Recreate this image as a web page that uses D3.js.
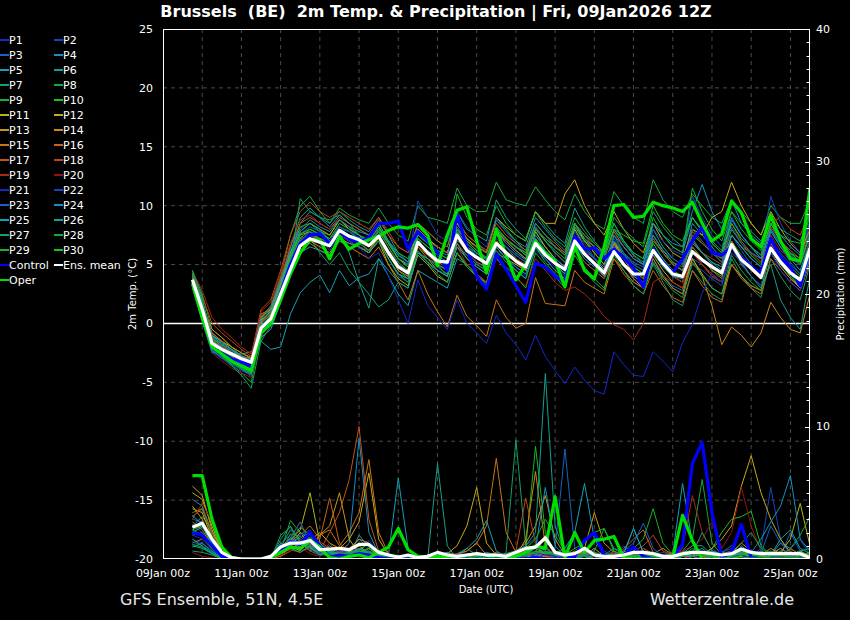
<!DOCTYPE html>
<html>
<head>
<meta charset="utf-8">
<script src="https://cdn.jsdelivr.net/npm/d3@7"></script>
<style>
  body { margin: 0; background: #000; }
  svg { display: block; font-family: "DejaVu Sans", sans-serif; }
</style>
</head>
<body>
<svg id="chart" width="850" height="620"></svg>
<script>
// Forecast steps: 6-hourly from 09Jan 18z to 25Jan 12z (64 steps)
const firstStep = new Date(Date.UTC(2026, 0, 9, 18));
const stepHours = 6;

const memberNames = ["P1","P2","P3","P4","P5","P6","P7","P8","P9","P10",
  "P11","P12","P13","P14","P15","P16","P17","P18","P19","P20",
  "P21","P22","P23","P24","P25","P26","P27","P28","P29","P30"];

const xTickLabels = ["09Jan 00z","11Jan 00z","13Jan 00z","15Jan 00z","17Jan 00z",
  "19Jan 00z","21Jan 00z","23Jan 00z","25Jan 00z"];
const tempTicks = [-20,-15,-10,-5,0,5,10,15,20,25];
const precipTicks = [0,10,20,30,40];

// 2m temperature (°C)
const tempMean = [3.7,1.2,-1.7,-2.2,-2.6,-3.0,-3.3,-0.4, 0.4,2.5,4.6,6.6,7.2,6.9,6.6,7.9, 7.4,7.1,6.6,7.4,6.0,4.8,4.3,6.9, 6.0,5.3,5.2,7.5,6.2,5.6,5.1,6.8, 6.0,5.3,4.8,6.8,5.8,5.1,4.6,7.0, 5.9,5.1,4.3,6.1,5.0,4.2,4.2,6.2, 5.1,4.2,4.0,6.1,5.4,4.8,4.3,6.7, 5.4,4.7,3.9,6.4,5.2,4.3,3.7,6.4];
const tempControl = [3.5,0.8,-2.0,-2.6,-3.0,-3.3,-3.6,-0.6, 0.2,2.6,5.0,6.8,7.5,7.6,6.8,7.8, 7.2,6.9,7.3,8.5,8.5,8.7,6.3,7.8, 7.0,6.0,4.5,9.3,6.4,4.0,2.9,5.9, 4.6,3.2,1.8,5.1,4.8,4.0,3.5,7.4, 6.3,6.4,5.5,6.3,5.6,4.7,3.1,6.3, 5.2,4.3,5.5,7.0,8.2,6.0,5.8,6.5, 5.6,4.8,4.3,7.2,5.6,4.8,3.2,6.5];
const tempOper = [3.4,0.5,-2.0,-2.6,-3.2,-3.6,-4.0,-0.8, 0.0,2.0,4.2,6.0,7.1,7.1,5.5,7.4, 6.3,6.8,7.1,7.4,7.9,8.2,8.1,8.4, 7.5,4.9,7.5,9.6,9.9,7.0,4.3,8.0, 5.8,3.7,5.0,7.0,6.0,5.3,3.1,6.6, 4.5,3.8,6.5,10.0,10.1,9.0,9.1,10.3, 10.0,9.8,9.5,10.3,8.5,7.0,7.6,10.4, 9.4,7.2,6.5,9.2,7.0,5.5,5.3,11.5];
const tempMembers = [
  [4.0,1.5,-1.5,-2.0,-2.5,-3.0,-3.4,-0.2, 0.8,3.0,5.5,7.5,8.0,7.5,6.8,8.5, 8.0,7.2,6.5,7.8,6.5,5.0,4.0,7.5, 6.8,6.0,5.5,8.0,6.5,5.2,4.6,6.5, 5.5,4.8,4.0,6.2,5.5,4.8,4.0,7.5, 6.2,5.5,4.5,6.8,5.8,4.6,4.0,6.5, 5.5,4.4,3.8,6.0,5.0,4.2,3.5,6.8, 5.0,4.0,3.2,6.0,4.8,3.8,3.0,5.8],
  [3.6,0.9,-2.2,-2.8,-3.2,-3.5,-3.8,-0.8, 0.2,2.6,5.2,7.0,7.8,7.2,6.2,7.6, 7.0,6.5,6.0,7.0,5.5,4.0,3.5,6.0, 5.2,4.5,4.2,6.8,5.8,5.0,4.5,7.2, 6.5,5.8,5.2,7.8,6.5,5.5,4.8,8.0, 6.8,5.6,4.8,6.5,5.0,3.8,3.2,5.5, 4.2,3.0,2.5,5.0,4.5,3.8,3.2,6.0, 5.2,4.5,3.8,7.0,6.0,5.0,4.2,7.2],
  [3.2,0.6,-2.0,-2.4,-2.9,-3.2,-3.5,-0.3, 0.6,2.8,5.0,6.5,7.0,6.8,6.5,7.8, 7.5,7.3,7.0,7.8,6.8,5.5,4.8,7.2, 6.5,6.0,5.5,7.8,6.8,6.0,5.2,7.5, 7.0,6.2,5.5,7.2,6.0,5.2,4.4,6.8, 5.5,4.8,4.0,5.5,4.5,3.5,3.0,5.2, 4.0,3.2,2.8,5.5,5.0,4.2,3.5,7.5, 6.2,5.0,4.0,8.0,6.5,5.2,4.2,7.0],
  [3.8,1.8,-1.2,-1.8,-2.3,-2.8,-3.2,0.2, 1.0,3.5,6.0,8.5,9.5,9.0,8.2,9.2, 8.5,8.0,7.5,8.5,7.0,5.5,4.8,7.8, 7.0,6.5,6.0,8.5,7.5,6.8,6.0,8.8, 7.8,7.0,6.5,9.0,8.0,7.0,6.2,8.5, 7.2,6.5,5.8,8.0,7.0,6.0,5.5,8.5, 7.5,6.8,6.5,9.5,11.8,9.5,8.0,10.5, 8.5,7.5,6.8,9.0,7.5,6.5,5.8,8.5],
  [3.0,0.2,-2.5,-2.3,-2.5,-2.6,-2.4,-1.5, -2.2,-2.0,0.8,2.6,3.5,4.1,2.6,4.5, 3.2,3.9,4.2,5.5,4.0,2.5,1.5,4.5, 4.0,3.5,3.0,5.5,5.0,4.2,3.5,6.0, 5.5,4.5,3.8,6.5,5.5,4.5,3.8,6.8, 5.8,5.0,4.2,7.0,6.0,5.0,4.5,7.2, 6.0,5.0,4.5,7.0,6.0,5.2,4.5,7.5, 6.5,5.5,4.8,7.8,6.5,5.5,4.5,7.0],
  [4.2,2.0,-1.0,-1.8,-2.4,-3.0,-3.6,0.0, 1.2,3.6,6.5,9.0,9.8,9.0,8.5,9.5, 8.8,8.2,7.8,9.0,7.5,6.0,5.2,8.5, 7.8,7.0,6.5,9.5,8.0,7.5,7.0,10.5, 9.0,8.0,7.2,9.5,8.5,7.5,6.8,9.8, 8.2,7.0,6.0,8.5,7.0,5.8,5.0,8.0, 6.5,5.5,5.0,8.5,7.5,6.5,5.5,9.0, 7.5,6.5,5.5,8.5,7.0,6.0,5.2,8.8],
  [3.5,1.0,-2.0,-2.6,-3.2,-3.8,-4.5,-1.0, 0.0,2.2,4.8,7.0,7.2,6.0,5.0,6.0, 4.5,3.5,2.5,1.4,2.0,3.5,3.0,6.0, 5.5,4.8,4.2,6.5,5.8,5.0,4.5,7.0, 6.5,5.5,4.5,7.5,6.5,5.5,4.8,8.2, 7.0,6.0,5.0,7.5,6.0,4.5,3.0,5.0, 3.5,2.0,1.5,4.5,3.5,2.5,2.0,5.5, 4.0,3.0,2.2,5.5,4.0,2.8,2.0,5.0],
  [4.5,2.5,-0.5,-1.2,-2.0,-2.8,-3.5,0.5, 1.5,4.0,7.5,10.0,10.8,9.5,8.5,9.8, 9.2,8.8,8.5,9.8,8.5,7.5,7.0,10.0, 9.0,8.8,8.5,11.5,10.0,9.5,9.5,12.0, 10.5,10.2,10.0,11.6,10.5,9.5,8.8,11.0, 9.5,8.5,8.0,11.2,10.0,9.0,8.5,12.2, 10.5,9.5,9.0,11.0,10.0,9.0,8.5,10.5, 9.5,8.5,7.5,10.0,9.0,8.5,8.5,10.5],
  [3.9,1.4,-1.8,-2.6,-3.5,-4.2,-5.0,-0.8, 0.3,2.5,5.0,7.2,8.0,7.5,7.0,8.2, 7.8,7.0,6.2,7.2,5.8,4.5,3.8,6.8, 6.0,5.0,4.0,6.0,5.0,4.0,3.2,5.5, 4.8,4.0,3.0,6.0,5.0,4.0,3.0,5.8, 4.5,3.5,2.8,6.0,5.5,4.8,4.2,7.0, 6.0,5.0,4.5,7.5,6.8,6.0,5.2,8.0, 6.8,5.8,5.0,8.5,7.0,6.0,5.5,9.5],
  [4.3,1.9,-1.2,-2.0,-2.8,-3.6,-4.3,-0.5, 0.5,3.2,6.0,8.2,8.5,7.8,7.5,8.8, 8.2,7.5,7.0,8.5,7.0,6.0,5.5,8.0, 7.2,6.5,6.0,8.5,7.2,6.5,6.0,9.0, 8.0,7.0,6.2,8.2,7.0,6.0,5.2,7.5, 6.0,5.0,4.2,7.0,5.8,4.8,4.2,6.8, 5.5,4.5,4.0,6.5,5.5,4.5,4.0,7.0, 5.8,4.8,4.0,7.2,5.8,4.8,4.0,6.8],
  [3.3,0.7,-1.5,-2.0,-2.5,-2.8,-3.0,0.3, 1.0,3.0,5.5,7.0,7.5,7.0,6.5,7.5, 7.0,6.5,6.0,7.0,5.0,3.8,3.2,5.8, 5.0,4.0,3.5,6.0,4.8,4.0,3.5,6.5, 5.5,5.0,4.5,7.8,6.5,5.5,4.8,8.5, 7.0,6.0,5.0,7.0,5.5,4.2,3.5,5.8, 4.5,3.5,3.0,5.5,4.2,3.0,2.5,5.0, 4.0,3.2,2.8,6.5,5.2,4.0,3.0,6.0],
  [3.7,1.2,-1.0,-1.5,-2.0,-2.5,-2.9,0.5, 1.2,3.2,5.8,7.8,8.5,8.0,7.5,8.8, 8.0,7.5,7.0,8.2,6.8,5.5,5.0,8.0, 7.2,6.5,6.0,8.5,7.2,6.5,6.0,9.0, 8.2,7.5,7.0,9.5,8.5,8.5,11.0,12.2, 10.0,8.5,7.5,9.5,8.0,6.8,6.0,8.5, 7.0,6.0,5.5,8.0,7.5,9.0,9.5,12.0, 10.0,8.5,7.5,9.5,8.0,6.8,6.0,8.0],
  [3.4,0.9,-0.8,-1.5,-2.2,-2.8,-3.3,0.0, 0.8,2.7,5.2,7.0,7.0,6.5,6.0,7.2, 6.8,6.5,6.2,7.5,6.0,4.8,4.2,7.0, 6.0,5.2,4.8,7.5,6.2,5.5,5.0,7.8, 7.0,6.2,5.5,8.2,7.0,6.0,5.2,8.0, 6.5,5.5,4.6,6.8,5.5,4.5,3.8,6.2, 5.0,4.0,3.5,6.2,5.0,4.0,3.5,6.5, 5.0,4.0,3.2,6.0,4.8,3.8,3.0,5.5],
  [4.0,1.6,-0.5,-1.2,-2.0,-2.5,-3.0,0.8, 1.2,3.5,6.0,7.5,7.8,7.0,6.5,7.5, 7.0,6.5,6.0,7.5,6.0,4.5,4.0,6.5, 5.5,4.5,4.0,6.8,5.5,4.8,4.2,7.0, 6.0,5.2,4.5,7.0,6.0,5.0,4.2,7.2, 5.8,5.0,4.0,6.8,5.0,3.8,3.0,5.5, 4.0,3.0,2.5,5.5,4.0,1.5,-1.8,-0.3, -1.0,-2.0,-0.8,1.8,0.5,-0.5,-0.8,2.5],
  [3.1,0.4,-1.8,-2.3,-2.8,-3.3,-3.7,-0.5, 0.2,2.4,4.8,6.5,6.8,6.2,5.8,7.0, 6.5,6.0,5.5,6.5,5.0,3.5,2.0,4.5, 2.5,1.0,-0.3,2.4,0.6,-0.2,-1.1,2.0, 0.5,-0.4,0.0,3.9,1.7,1.6,1.5,4.5, 3.5,3.0,2.5,5.5,4.5,3.5,3.0,6.0, 5.0,4.0,3.5,6.5,5.5,4.5,3.8,7.0, 5.5,4.5,3.8,6.8,5.5,4.5,3.8,6.5],
  [3.6,1.3,-1.3,-1.9,-2.5,-3.0,-3.4,0.1, 0.9,3.0,5.5,7.2,7.5,7.2,7.0,8.0, 7.5,7.0,6.5,7.2,5.5,4.2,3.8,6.5, 5.8,5.0,4.6,7.2,6.0,5.2,4.8,7.0, 6.0,5.5,5.0,7.2,6.0,5.0,4.2,6.5, 5.2,4.5,3.8,5.5,4.2,3.2,2.5,4.5, 3.2,2.2,1.8,4.5,3.2,2.2,1.8,5.0, 3.8,3.0,2.5,5.5,4.5,3.5,2.8,5.2],
  [3.9,1.7,-0.8,-1.5,-2.2,-2.8,-3.2,0.6, 1.4,3.8,6.5,8.5,9.0,8.5,8.0,9.0, 8.5,8.0,7.5,8.8,7.5,6.5,6.0,8.5, 7.8,7.0,6.5,8.8,7.5,6.8,6.2,8.5, 7.5,6.8,6.2,8.5,7.5,6.8,6.0,8.5, 7.2,6.2,5.5,7.8,6.5,5.5,5.0,7.5, 6.2,5.2,4.8,7.8,6.8,6.0,5.5,8.5, 7.0,6.0,5.2,8.2,7.0,6.2,5.5,8.0],
  [4.1,2.3,0.0,-0.8,-1.5,-2.2,-2.8,1.2, 2.0,4.5,7.5,9.5,10.3,9.5,9.0,9.5, 9.0,8.5,8.0,9.0,7.8,6.5,6.0,8.0, 7.0,6.5,6.0,8.0,7.0,6.5,6.0,8.0, 7.0,6.5,6.0,8.0,7.2,6.5,6.0,8.5, 7.5,6.5,6.0,7.8,6.5,5.5,5.0,7.2, 6.0,5.0,4.5,7.0,6.0,5.5,5.0,7.5, 6.5,6.0,5.5,8.5,9.0,8.0,7.5,9.5],
  [4.4,2.8,0.5,-0.5,-1.2,-2.0,-2.6,1.0, 1.8,4.2,6.8,8.8,9.2,8.5,8.0,8.8, 8.2,7.5,7.0,8.0,6.5,5.0,4.5,7.0, 6.0,5.0,4.5,6.5,5.0,4.2,3.5,5.5, 4.5,3.8,3.2,5.5,4.5,3.5,2.8,3.1, 2.5,1.7,0.6,-0.1,-0.5,-1.4,0.0,3.5, 4.0,3.5,3.0,6.0,5.0,4.0,3.5,6.5, 5.5,4.8,4.2,7.5,6.2,5.5,5.0,7.0],
  [3.3,1.0,-2.5,-3.2,-3.8,-4.2,-4.6,-1.2, 0.0,2.2,4.6,6.8,7.2,6.8,6.5,7.5, 7.0,6.5,6.2,7.0,5.8,4.8,4.2,6.8, 6.0,5.5,5.0,7.2,6.2,5.5,5.0,7.0, 6.2,5.5,5.0,7.0,6.0,5.2,4.5,7.0, 5.8,5.0,4.2,6.2,5.0,4.0,3.5,6.0, 5.0,4.0,3.5,6.0,5.0,4.2,3.5,6.5, 5.5,4.8,4.0,6.5,5.5,4.5,3.8,6.0],
  [3.7,1.1,-1.6,-2.2,-2.7,-3.1,-3.5,-0.4, 0.5,2.8,5.2,7.0,7.5,7.0,6.5,7.5, 7.0,6.5,5.5,6.0,4.0,2.0,0.0,3.7, 1.5,0.5,-0.5,2.0,0.0,-0.8,-1.7,0.7, -0.8,-1.8,-3.1,-1.0,-2.8,-4.0,-5.1,-3.7, -4.8,-5.7,-6.0,-2.4,-3.5,-4.4,-4.5,-2.4, -3.2,-4.1,-1.6,-0.1,2.6,4.2,3.5,6.5, 5.0,4.0,3.2,6.0,4.5,3.5,2.8,5.5],
  [3.5,0.8,-2.4,-3.0,-3.6,-4.0,-4.4,-1.0, 0.1,2.4,5.0,7.0,7.8,7.5,7.0,8.0, 7.8,7.5,7.2,8.0,7.0,5.8,5.0,10.4, 9.0,7.5,7.0,9.5,8.2,7.2,6.5,9.0, 7.8,6.8,6.0,8.2,7.0,6.0,5.2,7.8, 6.5,5.5,4.8,7.2,6.0,5.0,4.5,8.0, 7.0,6.2,5.8,10.8,9.0,7.5,6.5,9.0, 7.5,6.5,5.8,10.8,8.5,7.0,6.0,8.5],
  [3.8,1.3,-1.4,-2.0,-2.6,-3.2,-3.7,-0.2, 0.6,2.9,5.4,7.6,8.2,7.8,7.2,8.2, 7.8,7.2,6.8,7.5,6.2,5.0,4.5,7.0, 6.2,5.5,5.0,7.5,6.5,5.8,5.2,7.5, 6.5,5.8,5.2,7.5,6.2,5.5,4.8,7.5, 6.2,5.5,4.8,7.0,6.0,5.2,4.8,7.5, 6.2,5.5,5.0,8.0,7.0,6.0,5.2,8.2, 6.8,6.0,5.5,8.5,7.0,6.0,5.2,7.8],
  [3.9,1.6,-1.1,-1.7,-2.2,-2.7,-3.1,0.4, 1.3,3.6,6.2,8.0,8.8,8.2,7.8,8.8, 8.2,7.8,7.5,8.2,7.0,5.8,5.2,7.5, 6.8,6.2,5.8,8.2,7.0,6.2,5.5,7.8, 6.8,6.0,5.4,7.2,6.0,5.0,4.2,6.8, 5.5,4.8,4.0,7.5,6.5,5.5,5.0,8.5, 7.5,6.5,6.0,9.0,7.8,6.8,6.0,8.8, 7.5,6.5,5.5,8.0,6.8,5.8,5.0,7.5],
  [3.2,0.5,-2.3,-2.9,-3.4,-3.9,-4.3,-1.2, -0.5,1.8,4.2,6.0,6.5,6.2,5.8,7.0, 6.8,6.5,6.0,7.0,5.5,4.2,3.8,6.0, 5.2,4.5,4.0,6.5,5.5,4.8,4.2,6.5, 5.5,4.8,4.2,6.8,5.8,5.0,4.2,7.0, 6.0,5.2,4.5,6.5,5.0,4.0,3.5,6.0, 4.8,4.0,3.8,6.8,6.0,5.2,4.8,7.5, 6.5,5.5,4.8,7.0,5.5,4.2,3.2,5.5],
  [4.0,1.8,-1.0,-1.6,-2.2,-2.8,-3.4,0.2, 1.0,3.2,5.8,7.8,8.5,8.0,7.0,7.5, 6.0,3.5,1.3,5.5,4.5,3.5,3.0,6.0, 5.5,5.0,4.5,7.0,6.5,6.0,5.5,8.0, 7.2,6.5,6.0,8.5,7.5,6.5,5.8,8.5, 7.2,6.5,5.8,8.0,6.8,5.8,5.2,7.5, 6.2,5.2,4.5,7.2,6.0,5.0,4.2,6.8, 5.2,4.0,3.0,5.0,2.0,0.5,-0.5,4.0],
  [4.5,2.2,-1.8,-2.8,-3.6,-4.4,-5.5,-1.5, -0.2,2.2,5.0,10.6,9.5,9.0,8.8,9.2, 8.5,7.5,6.5,8.0,6.8,5.5,4.8,7.2, 6.5,5.8,5.2,7.8,6.8,6.0,5.4,8.0, 7.2,6.5,5.8,8.0,7.2,6.5,5.8,8.5, 7.5,6.8,6.0,9.0,8.0,7.2,6.5,9.5, 8.2,7.2,6.5,9.0,8.0,7.0,6.2,9.5, 8.5,7.8,7.0,9.0,8.0,7.5,7.0,9.0],
  [3.6,1.0,-2.1,-2.7,-3.3,-3.8,-4.2,-0.7, 0.4,2.7,5.3,7.3,7.8,7.2,6.8,7.8, 7.2,6.8,6.2,7.0,5.5,4.2,3.5,6.2, 5.2,4.2,3.5,6.0,4.8,4.0,3.4,6.2, 5.2,4.5,3.8,6.5,5.2,4.2,3.5,6.2, 4.8,3.8,3.0,5.8,4.5,3.2,2.5,5.2, 3.8,2.8,2.2,5.2,4.0,3.0,2.5,5.8, 4.5,3.5,2.8,6.2,5.0,4.0,3.2,6.5],
  [3.4,0.8,-1.9,-2.5,-3.0,-3.5,-3.9,-0.6, 0.3,2.5,5.0,7.0,7.5,7.0,6.8,8.0, 7.5,7.0,6.6,7.8,6.5,5.2,4.5,7.2, 6.5,5.8,5.2,11.0,9.0,8.0,7.5,10.0, 8.5,7.5,7.0,9.5,8.2,7.2,6.5,9.0, 7.8,6.8,6.0,8.5,7.0,6.0,5.5,9.0, 7.5,6.5,6.0,11.5,9.5,8.0,7.0,9.5, 8.0,7.0,6.2,8.5,7.5,7.0,6.8,9.5],
  [3.8,1.5,-1.4,-2.1,-2.8,-3.4,-4.0,-0.3, 0.7,3.0,5.6,7.6,8.0,7.6,7.2,8.5, 8.0,7.5,7.0,8.2,6.8,5.5,4.8,7.5, 6.8,6.0,5.5,8.0,7.0,6.2,5.6,8.2, 7.2,6.5,5.8,8.0,7.0,6.2,5.5,8.2, 7.0,6.2,5.5,8.0,7.5,7.0,6.8,10.0, 8.5,7.5,7.0,9.0,7.8,6.8,6.0,8.5, 7.2,6.5,5.8,8.5,7.0,6.0,5.2,7.5]
];

// 6-hourly precipitation (mm)
const precipMean = [2.4,2.7,1.5,0.5,0.1,0,0,0, 0.2,0.9,1.2,1.2,1.4,0.7,0.75,0.8, 0.7,1.1,1.1,0.5,0.3,0.15,0.3,0.1, 0.2,0.5,0.3,0.2,0.3,0.4,0.3,0.3, 0.2,0.5,0.8,0.9,1.6,0.5,0.3,0.4, 0.8,0.3,0.2,0.2,0.3,0.5,0.5,0.4, 0.2,0.2,0.4,0.5,0.5,0.4,0.3,0.4, 0.75,0.5,0.4,0.4,0.4,0.4,0.4,0.1];
const precipControl = [2.0,1.8,1.0,0.2,0,0,0,0, 0,0.7,1.3,1.1,2.0,1.0,0.15,0.3, 0.2,0.4,0.3,0.1,0,0,0,0, 0,0,0,0,0,0,0,0, 0,0,0,0.1,0,0,0,0.2, 1.4,2.0,0.3,0.1,0.3,0.9,0.2,0, 0,0.2,1.1,7.2,8.8,3.5,0.1,0.5, 2.6,0.1,0,0,0,0,0,0];
const precipOper = [6.3,6.3,3.0,0.9,0.1,0,0,0, 0.1,0.5,0.9,0.8,1.4,0.9,0.1,0, 0.2,0.3,0.1,0.5,0.9,2.3,0.7,0.2, 0.1,0.2,0.1,0,0,0,0,0, 0,0.2,0.5,1.0,0.8,4.7,0.1,2.0, 0.5,1.4,1.5,1.7,0.1,0,0,0, 0,0.1,3.3,1.4,0,0,0,0, 0,0,0,0,0,0,0,0];
const precipMembers = [
  [1.5,1.2,0.5,0.1,0,0,0,0, 0,0.8,1.5,1.0,1.2,0.5,0.3,0.6, 0.4,0.8,0.6,0.2,0,0,0.3,0, 0,0.2,0,0,0.3,0,0.5,0.2, 0,0,0.4,0.8,0.3,0,0.2,0, 0.5,0,0,0.3,0,0.4,0.2,0, 0,0,0.2,0.6,0.3,0,0,0.2, 0.5,0.2,0,0.3,0.8,0.4,0,0],
  [2.0,2.5,1.0,0.2,0,0,0,0, 0.2,1.2,1.8,1.4,0.8,0.4,0.6,0.2, 0.3,1.0,1.4,0.5,0.2,0,0,0.1, 0,0,0.3,0,0,0.4,0.2,0, 0,0.5,1.0,1.6,0.4,0.2,0,0.3, 0.6,0.2,0,0,0.2,0,0.8,0.3, 0,0,0,0.4,0.2,0.8,0.2,0, 0.6,0.2,0.8,5.4,1.5,0.4,0.2,0],
  [3.0,2.8,1.5,0.3,0,0,0,0, 0,0.6,1.2,2.0,1.5,0.6,0.2,0.3, 0.5,1.5,0.8,0.2,0,0.2,0,0, 0.1,0.3,0,0.2,0,0,0,0.4, 0.2,0,0.6,0.3,1.2,0.8,8.3,0.8, 0.3,0,0,0.2,0,0,0.5,0.2, 0.3,0,0,0.2,0,0,0.5,1.0, 0.4,0,0.2,0.6,0.2,2.0,0.6,0],
  [4.5,4.0,2.0,0.4,0,0,0,0, 0.3,1.0,1.3,1.6,2.0,1.0,0.8,0.5, 1.2,9.1,2.0,0.4,0,0,0.2,0, 0,0,0.3,0,0,0.2,0,0, 0,0.3,0,0.5,0.2,0,0,0.4, 0.2,0,0.3,0.8,0.5,2.3,0.5,0, 0,0.2,0.4,0,0,0.3,0.2,0, 1.0,0.4,0,0.3,1.2,0.8,0.3,0],
  [1.0,0.8,0.4,0.1,0,0,0,0, 0,0.5,0.8,1.1,0.9,0.4,0.3,0.2, 0.6,0.3,0.2,0.5,0.3,6.1,0.8,0.2, 0,0,0.4,0,0,0,0.2,0, 0,0.3,0,0,0.2,0.5,0.3,0, 0.4,0.2,0,0,0.6,0,0,0, 0.2,0.4,5.7,1.2,0.4,0.2,0,0.5, 0.2,0,0.5,0.2,0,0.3,0.6,0.2],
  [2.5,3.2,2.2,0.6,0.1,0,0,0, 0,0.9,2.2,1.5,1.0,0.6,1.0,0.4, 0.2,1.8,0.9,0.5,0.2,0.3,0,0, 0,7.2,1.0,0,0.2,0,0.3,0, 0.3,0,0.4,0.2,0,0.3,0,0.2, 0.6,0.3,0,0,0.2,0.4,0.2,0, 0,0,0.3,0.5,0.8,0.2,0,0, 0.3,0.6,0.2,0,0.4,0.2,0,0],
  [0.6,0.5,0.3,0,0,0,0,0, 0,1.5,2.5,1.2,0.8,0.5,0.2,0.4, 0.3,0.5,0.8,0.3,0,0,0,0.2, 0,0,0.2,0.4,0.8,0.3,0.2,0, 0.5,9.0,1.0,0.3,0.6,0,0.2,0, 0,0.4,0.2,0,0,0.3,0.6,0.4, 0,0,0.2,0.4,0.3,0.2,0.6,0, 0.2,0.5,0,0.2,0.3,0,0,0.4],
  [1.8,2.0,1.2,0.2,0,0,0,0, 0,0.6,2.9,2.0,1.6,0.8,0.4,0.2, 0.3,0.6,1.2,0.4,0,0,0.2,0, 0,0.3,0,0.2,0,0,0,0.2, 0.2,0.6,0.8,1.0,0.3,0,0.4,0.2, 0.3,0,0.2,0.6,0.3,0.2,0,0.4, 0.2,0,0.6,1.5,6.0,1.2,0.3,0, 0.4,0.2,0,0,0.3,0.2,0,0.6],
  [3.5,3.8,1.8,0.3,0,0,0,0, 0,0.7,1.0,0.8,1.6,0.9,0.5,0.3, 0.4,0.7,1.2,0.3,0.1,0,0,0, 0,0.2,0.3,0,0,0.5,0.2,0, 0,0.4,0.8,8.5,2.0,0.3,0,0.2, 0.3,0.2,0,0,0.4,0.8,1.5,3.8, 1.2,0.3,0,0.2,0.5,0.3,0,0, 0.3,0.2,0.5,0,0.2,0.4,0,0.3],
  [2.2,2.5,1.0,0.1,0,0,0,0, 0,0.4,1.1,1.3,0.9,0.5,0.2,0.5, 0.6,0.4,0.3,0.2,0,0,0.1,0, 0,0.2,0,0,0.4,0.2,0,0.3, 0,0.2,0.3,0.5,1.8,0.6,0.2,0, 0.2,0.5,0.3,0,0,0.2,0.3,0, 0,0.2,0.4,0.2,0.3,0.8,2.0,3.0, 3.2,3.6,1.0,0.3,0.2,0,0.2,0],
  [5.0,4.5,2.5,0.6,0.1,0,0,0, 0.2,0.6,1.4,2.2,5.0,1.2,0.5,0.3, 0.6,1.0,0.4,0.3,0,0,0.2,0, 0,0,0.3,0.2,0,0,0,0.2, 0.3,0,0.2,0.6,0.4,0.2,0,0.3, 0.4,0,0.2,0,0.3,0,0,0.2, 0.3,0.2,0,0,0.2,0.3,0,0.4, 0.2,0.6,0.3,0.2,0.5,1.5,4.2,1.0],
  [3.8,3.5,1.6,0.3,0,0,0,0, 0,0.5,1.0,0.6,1.4,2.0,1.2,0.8, 1.5,2.8,6.5,1.5,0.3,0,0,0.2, 0,0.3,0.4,1.0,2.5,5.4,1.2,0.3, 0.2,0,0.5,0.3,0.2,0,0.2,0.6, 0.3,0.8,0.2,0.5,0,0.2,0.4,0, 0.2,0.3,0,0.2,0.4,0.8,1.5,2.5, 5.5,7.8,5.0,3.0,1.5,0.5,0.2,0],
  [5.5,4.8,2.2,0.5,0,0,0,0, 0,0.3,0.9,2.0,1.0,1.8,2.5,5.0, 1.5,0.4,0.8,0.3,0,0,0.2,0, 0.2,0,0,0.4,0.6,1.2,0.3,0, 0.4,0.6,1.2,2.5,4.8,1.5,0.3,0.2, 0.8,3.5,1.2,0.5,0,0.2,0.6,0.3, 0,0.2,0,0.3,0.5,0.2,0,0.2, 0.5,0.2,0,0.4,0.8,0.3,0.6,0.2],
  [4.0,3.0,1.4,0.2,0,0,0,0, 0,0.2,0.6,1.0,1.4,0.8,0.6,0.9, 0.8,1.5,1.2,0.4,0,0.2,0,0, 0,0.3,0,0,0.2,0.4,0.2,0, 0.3,0.2,1.5,6.6,1.0,0.2,0,0.4, 0.5,0.2,0,0.3,0.6,0.2,0,0.4, 0.8,0.3,0,0.2,0.4,0.6,0.3,0.5, 1.2,0.6,0.3,0.8,0.4,0.2,0.5,0],
  [1.2,1.5,0.8,0.1,0,0,0,0, 0,0.3,0.8,1.2,0.6,1.8,2.2,1.0, 2.0,3.5,7.5,2.0,0.4,0,0,0.3, 0,0.2,0.5,0.3,0.6,1.2,2.5,7.6, 2.0,0.5,0.2,0.4,0.2,0,0.5,0.3, 0.2,0,0.3,0,0.5,0.8,0.3,0, 0.2,0.5,0.3,0,0.2,0.4,0,0.3, 0.6,0.3,0.2,0.5,0.2,0,0.3,0.4],
  [2.8,2.2,1.0,0.1,0,0,0,0, 0,0.5,1.4,1.8,2.5,1.5,4.6,1.2, 0.5,0.8,0.4,0.2,0,0,0.3,0, 0,0.4,0.2,0,0.3,0,0.2,0.5, 0.3,0,0.2,0.4,0.6,0.2,0,0.3, 0.5,0.2,0.4,0,0.8,1.5,2.2,0.5, 0.2,0,0.3,0.5,0.2,0,0.4,0.6, 0.3,0.2,0,0.5,0.3,0.8,0.3,0],
  [3.2,3.8,2.0,0.4,0,0,0,0, 0.1,0.9,1.6,2.8,1.2,0.6,2.0,3.5, 6.0,10.0,3.0,0.6,0.2,0,0,0, 0.3,0,0.2,0.4,0,0.3,0,0.2, 0,0.4,0.6,0.3,0,0.2,0.5,0.2, 0.3,0,0.2,0.5,0.3,0,0.8,0.4, 0,0.3,0.6,0.2,0,0.4,0.2,0, 0.5,0.2,0.3,0,0.4,0.2,0,0.3],
  [2.0,1.8,0.9,0.1,0,0,0,0, 0,0.6,0.7,0.5,0.9,1.3,0.8,0.5, 0.4,0.3,0.6,0.2,0,0,0.3,0.2, 0,0,0.4,0.2,0.3,0,0.2,0, 0.2,0.6,4.6,1.2,0.3,0,0.2,0.5, 0.2,0.4,0,0,0.2,0.6,1.0,1.8, 0.6,0.3,0.2,0.5,0.3,0,0.2,0.4, 0.8,0.4,0.2,0,0.3,0.6,0.2,0],
  [3.0,4.2,2.8,0.8,0.1,0,0,0, 0,0.4,0.9,1.5,0.7,0.4,1.2,0.3, 0.2,0.6,0.3,0,0,0.2,0,0, 0.2,0,0.3,0.2,0,0.4,0.2,0, 0.3,0,0.2,0.6,1.5,0.4,0,0.2, 0.3,0.5,0.2,0,0.3,0,0.4,0.2, 0,0.3,0.8,4.8,2.0,0.6,0.2,0, 0.3,0.2,0,0.4,0.2,0,0.3,0.2],
  [0.5,0.2,0.1,0,0,0,0,0, 0,0.3,0.6,0.9,0.4,0.2,0.6,0.8, 0.3,0.5,0.2,0,0,0,0.2,0, 0,0.3,0,0.2,0.4,0.2,0,0, 0.2,0.3,0.2,0,0.4,0.2,0.6,0, 0,0.2,0.3,0.5,0.2,0,0,0.3, 0.2,0.4,0.6,1.0,1.5,2.8,0.8,2.0, 5.4,2.5,0.6,0.3,0.2,0,0.4,0.2],
  [1.8,1.5,0.7,0.1,0,0,0,0, 0,0.6,1.2,1.8,2.2,0.8,0.4,0.3, 0.2,0.4,0.3,0,0,0.2,0,0, 0,0,0.2,0.3,0,0,0.4,0.2, 0.2,0,0,0.4,0.3,0.2,0,0.4, 0.2,0,0.2,0,0.3,0,0.2,0.5, 0.2,0.3,0,0.2,0.5,0.3,0,0.2, 0.3,0,0.4,0.2,0,0.3,0,0],
  [2.6,2.0,0.9,0.1,0,0,0,0, 0,0.8,1.5,2.8,1.0,0.5,0.3,0.2, 0.8,0.5,0.2,0.3,0,0,0,0.2, 0,0.3,0,0,0.2,0.4,0,0, 0.3,0.2,0,0.5,0.6,0.2,0.4,0, 0.2,0.3,0.6,0.2,1.0,0.5,0,0.3, 0.5,0.2,0.8,0.3,0,0.2,0.5,0.8, 0.4,0.2,0.6,0.3,0.2,0.8,1.5,0.3],
  [1.3,1.0,0.4,0,0,0,0,0, 0,0.5,1.0,1.3,1.6,0.4,0.2,0.6, 0.4,0.6,0.2,0,0.2,0,0,0, 0,0.2,0,0.4,0.2,0,0.3,0, 0,0.3,0.2,0.2,0.5,0.3,0,0.2, 0.4,0.2,0,0,0.6,1.2,2.7,0.8, 0.2,0,0.3,0.2,0.6,0.4,0.2,0.5, 0.3,0.6,0.4,2.5,1.2,0.5,0.2,0],
  [3.3,2.6,1.2,0.2,0,0,0,0, 0,0.7,1.2,1.0,2.0,1.2,0.5,0.3, 0.3,0.8,0.5,0.2,0,0,0.2,0, 0,0.2,0.3,0,0,0.2,0.4,0, 0.2,0,0.4,0.8,5.4,1.0,0.2,0.3, 0.3,0,0.2,0.4,0,0.2,0.3,0, 0,0.2,0.4,0.2,0.3,0.6,0.4,0.2, 0.8,0.5,1.5,2.8,4.0,6.3,1.5,0.6],
  [0.9,1.2,0.6,0.1,0,0,0,0, 0,0.4,1.6,1.2,0.9,0.3,0.6,0.4, 0.2,0.5,0.3,0.6,0.4,0.2,0,0, 0,0.3,0.5,0.2,0.8,1.5,2.9,0.6, 0.2,0.4,0.3,0,0.6,0.4,0.8,2.0, 5.7,1.5,0.3,0.2,0.4,2.3,0.5,0.2, 0,0.3,0.2,0.5,0.4,0,0.2,0.6, 0.4,0.2,0.6,0.3,1.5,2.2,0.8,0.4],
  [2.0,2.4,1.5,0.3,0,0,0,0, 0,1.2,0.8,0.5,1.0,0.7,0.4,0.8, 0.5,0.6,0.4,0.2,0,0,0.2,0, 0,0.2,0,0.3,0,0.2,0.5,0.3, 0.4,0.6,1.0,2.0,14.0,2.5,0.4,0.2, 0,0.3,0.2,0,0.2,0.4,0,0.2, 0.3,0,0.4,1.0,1.0,0.3,0,0.2, 0.4,0.2,0,0.3,0.6,0.2,0.3,0],
  [1.5,1.0,0.5,0,0,0,0,0, 0,1.8,2.4,1.3,0.6,0.3,0.5,0.2, 0.3,0.4,0.6,0.3,0,0,0,0.2, 0.3,0,0.2,0,0.4,0.3,0,0.2, 0,0.3,0.5,0.4,0.8,0.3,0.2,0, 0.4,0.6,2.3,0.8,0.3,0,0.2,0.5, 0.3,0,0.2,0.4,2.0,0.6,0.3,0.4, 1.2,2.0,0.8,0.3,0.2,0.4,0.6,0.8],
  [2.4,2.8,1.3,0.2,0,0,0,0, 0,0.5,1.9,1.7,1.1,0.8,0.6,0.3, 0.5,0.7,0.5,0.3,0.2,0,0,0, 0,0.2,0.3,0,0,0.2,0,0.3, 0.2,0.4,0.2,0.6,0.5,0.3,0.4,0, 0.3,0.5,0.2,0,0.2,0.3,0.6,0.2, 0,0.2,0.4,0.6,0.3,0.2,0.5,0.3, 0.5,0.2,0.4,0.6,0.2,0.8,1.8,3.2],
  [1.1,0.9,0.4,0,0,0,0,0, 0,0.6,1.4,2.4,1.8,0.9,0.3,0.2, 0.4,0.3,0.2,0,0,0,0.2,0, 0,0,0.4,0.2,0,0.5,0.3,0, 0.3,0.5,0.8,1.5,3.0,1.8,0.6,0.4, 0.2,0,0.4,0.3,0,0.2,0.3,0, 0.2,0.4,0.3,0.8,0.4,0.2,0,0.3, 0.6,0.3,0.2,0.5,0.3,0.2,0,0.2],
  [2.2,1.8,0.8,0.1,0,0,0,0, 0,0.9,1.4,1.1,2.0,0.6,0.3,0.4, 0.2,0.5,0.8,0.4,0,0.2,0,0, 0,0.3,0,0.2,0.3,0,0.2,0, 0.2,0.3,0.5,0.8,0.4,0.6,0.3,0.8, 1.2,2.0,2.3,0.6,0.2,0,0.3,0.2, 0,0.2,0.3,0.2,0.5,0.3,0.2,0, 0.3,0.5,0.2,0.2,0.4,0,0.3,0.5]
];

// Member colours P1..P20, repeated for P21..P30
const baseColors = ["#1428c8","#1446bc","#1464c0","#1490c4","#14a0b4","#14a08c","#14a064","#14a840","#14b424","#14c414",
  "#b4b414","#c8a814","#c89814","#c88814","#c87414","#c86414","#c05414","#c04414","#a82814","#941414"];
const memberColor = i => baseColors[i % 20];

const svg = d3.select("#chart");
svg.append("rect").attr("width", 850).attr("height", 620).attr("fill", "#000");

const plot = {left: 163, right: 810, top: 29, bottom: 559};

const x = d3.scaleUtc()
  .domain([new Date(Date.UTC(2026, 0, 9, 0)), new Date(Date.UTC(2026, 0, 25, 12))])
  .range([plot.left, plot.right]);
const yT = d3.scaleLinear().domain([-20, 25]).range([plot.bottom, plot.top]);
const yP = d3.scaleLinear().domain([0, 40]).range([plot.bottom, plot.top]);

const times = tempMean.map((d, i) => new Date(firstStep.getTime() + i * stepHours * 3600 * 1000));

// Grid: dashed daily verticals and every-5°C horizontals
const days = d3.utcDay.range(new Date(Date.UTC(2026, 0, 10)), new Date(Date.UTC(2026, 0, 25, 1)));
svg.append("g").selectAll("line").data(days).join("line")
  .attr("x1", d => x(d)).attr("x2", d => x(d))
  .attr("y1", plot.top).attr("y2", plot.bottom)
  .attr("stroke", "#4a4a4a").attr("stroke-dasharray", "4,4");
svg.append("g").selectAll("line").data(tempTicks.filter(t => t !== 0 && t !== -20 && t !== 25)).join("line")
  .attr("x1", plot.left).attr("x2", plot.right)
  .attr("y1", d => yT(d)).attr("y2", d => yT(d))
  .attr("stroke", "#4a4a4a").attr("stroke-dasharray", "4,4");

// zero line
svg.append("line")
  .attr("x1", plot.left).attr("x2", plot.right)
  .attr("y1", yT(0)).attr("y2", yT(0))
  .attr("stroke", "#fff").attr("stroke-width", 1.5);

svg.append("clipPath").attr("id", "clip")
  .append("rect").attr("x", plot.left).attr("y", plot.top)
  .attr("width", plot.right - plot.left).attr("height", plot.bottom - plot.top);

const g = svg.append("g").attr("clip-path", "url(#clip)");

const lineT = d3.line().x((d, i) => x(times[i])).y(d => yT(d));
const lineP = d3.line().x((d, i) => x(times[i])).y(d => yP(d));

// members: precipitation then temperature
precipMembers.forEach((s, i) => {
  g.append("path").attr("d", lineP(s)).attr("fill", "none")
    .attr("stroke", memberColor(i)).attr("stroke-width", 1);
});
tempMembers.forEach((s, i) => {
  g.append("path").attr("d", lineT(s)).attr("fill", "none")
    .attr("stroke", memberColor(i)).attr("stroke-width", 1);
});

// control, oper, ensemble mean
[[precipControl, lineP], [tempControl, lineT]].forEach(([s, fn]) => {
  g.append("path").attr("d", fn(s)).attr("fill", "none")
    .attr("stroke", "#0000ff").attr("stroke-width", 3.2).attr("stroke-linejoin", "round");
});
[[precipOper, lineP], [tempOper, lineT]].forEach(([s, fn]) => {
  g.append("path").attr("d", fn(s)).attr("fill", "none")
    .attr("stroke", "#00e000").attr("stroke-width", 3.2).attr("stroke-linejoin", "round");
});
[[precipMean, lineP], [tempMean, lineT]].forEach(([s, fn]) => {
  g.append("path").attr("d", fn(s)).attr("fill", "none")
    .attr("stroke", "#ffffff").attr("stroke-width", 3.2).attr("stroke-linejoin", "round");
});

// frame
svg.append("rect")
  .attr("x", plot.left + 0.5).attr("y", plot.top + 0.5)
  .attr("width", plot.right - plot.left - 1).attr("height", plot.bottom - plot.top - 1)
  .attr("fill", "none").attr("stroke", "#fff").attr("stroke-width", 1);

// left axis labels
svg.append("g").selectAll("text").data(tempTicks).join("text")
  .attr("x", 153).attr("y", d => yT(d)).attr("dy", "0.35em")
  .attr("text-anchor", "end").attr("fill", "#fff").style("font-size", "11px")
  .text(d => d);

// right axis: minor ticks every 1 mm, labels every 10 mm
svg.append("g").selectAll("line").data(d3.range(1, 40)).join("line")
  .attr("x1", d => plot.right - (d % 10 === 0 ? 5 : 3.5)).attr("x2", plot.right)
  .attr("y1", d => Math.round(yP(d)) + 0.5).attr("y2", d => Math.round(yP(d)) + 0.5)
  .attr("stroke", "#fff").attr("stroke-width", 1);
svg.append("g").selectAll("text").data(precipTicks).join("text")
  .attr("x", 816).attr("y", d => yP(d)).attr("dy", "0.35em")
  .attr("fill", "#fff").style("font-size", "11px")
  .text(d => d);

// x axis labels
const labelDays = d3.utcDay.every(2).range(new Date(Date.UTC(2026, 0, 9)), new Date(Date.UTC(2026, 0, 25, 1)));
svg.append("g").selectAll("text").data(xTickLabels).join("text")
  .attr("x", (d, i) => x(labelDays[i])).attr("y", 577)
  .attr("text-anchor", "middle").attr("fill", "#fff").style("font-size", "11px")
  .text(d => d);

svg.append("text").attr("x", 486).attr("y", 593).attr("text-anchor", "middle")
  .attr("fill", "#fff").style("font-size", "10px").text("Date (UTC)");
svg.append("text").attr("transform", "translate(132,294) rotate(-90)")
  .attr("text-anchor", "middle").attr("dy", "0.35em")
  .attr("fill", "#fff").style("font-size", "10px").text("2m Temp. (°C)");
svg.append("text").attr("transform", "translate(840,294) rotate(-90)")
  .attr("text-anchor", "middle").attr("dy", "0.35em")
  .attr("fill", "#fff").style("font-size", "10px").text("Precipitation (mm)");

// title and footer
svg.append("text").attr("x", 436).attr("y", 17).attr("text-anchor", "middle")
  .attr("fill", "#fff").style("font-size", "16px").style("font-weight", "bold")
  .style("white-space", "pre")
  .text("Brussels  (BE)  2m Temp. & Precipitation | Fri, 09Jan2026 12Z");
svg.append("text").attr("x", 120).attr("y", 605)
  .attr("fill", "#e6e6e6").style("font-size", "16px").text("GFS Ensemble, 51N, 4.5E");
svg.append("text").attr("x", 794).attr("y", 605).attr("text-anchor", "end")
  .attr("fill", "#e6e6e6").style("font-size", "16px").text("Wetterzentrale.de");

// legend
const legendItems = memberNames.map((n, i) => ({name: n, color: memberColor(i)}))
  .concat([{name: "Control", color: "#0000ff"}, {name: "Ens. mean", color: "#ffffff"}, {name: "Oper", color: "#00e000"}]);
const leg = svg.append("g").selectAll("g").data(legendItems).join("g")
  .attr("transform", (d, i) => `translate(${i % 2 === 0 ? 0 : 54},${40 + Math.floor(i / 2) * 15})`);
leg.append("line").attr("x1", 0).attr("x2", 9).attr("y1", 0).attr("y2", 0)
  .attr("stroke", d => d.color).attr("stroke-width", 2);
leg.append("text").attr("x", 9).attr("dy", "0.35em")
  .attr("fill", "#fff").style("font-size", "11px").text(d => d.name);
</script>
</body>
</html>
